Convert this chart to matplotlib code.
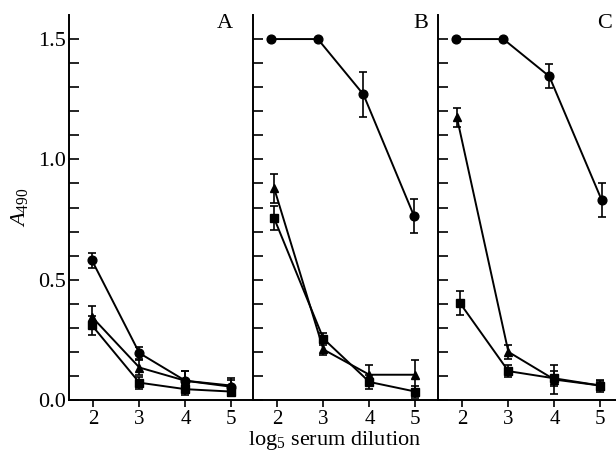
import matplotlib
matplotlib.use("Agg")
import matplotlib.pyplot as plt

plt.rcParams['font.family'] = ['Liberation Serif', 'DejaVu Serif']
plt.rcParams['mathtext.fontset'] = 'custom'
plt.rcParams['mathtext.rm'] = 'Liberation Serif'
plt.rcParams['mathtext.it'] = 'Liberation Serif:italic'

x_ticks = [2, 3, 4, 5]
y_major = [0.0, 0.5, 1.0, 1.5]
panel_labels = ['A', 'B', 'C']

# Panel A
xA_circle = [1.97, 3.0, 4.0, 5.0]
yA_circle = [0.58, 0.195, 0.08, 0.055]
eA_circle = [0.03, 0.025, 0.04, 0.03]
xA_tri = [1.97, 3.0, 4.0, 5.0]
yA_tri = [0.345, 0.135, 0.08, 0.06]
eA_tri = [0.045, 0.03, 0.04, 0.03]
xA_sq = [1.97, 3.0, 4.0, 5.0]
yA_sq = [0.31, 0.072, 0.045, 0.035]
eA_sq = [0.04, 0.025, 0.025, 0.02]

# Panel B
xB_circle = [1.87, 2.88, 3.87, 4.97]
yB_circle = [1.5, 1.5, 1.27, 0.765]
eB_circle = [0.0, 0.0, 0.095, 0.07]
xB_tri = [1.93, 3.0, 4.0, 5.0]
yB_tri = [0.88, 0.21, 0.105, 0.105]
eB_tri = [0.06, 0.025, 0.04, 0.06]
xB_sq = [1.93, 3.0, 4.0, 5.0]
yB_sq = [0.755, 0.255, 0.075, 0.035]
eB_sq = [0.05, 0.025, 0.03, 0.025]

# Panel C
xC_circle = [1.87, 2.89, 3.89, 5.03]
yC_circle = [1.5, 1.5, 1.345, 0.83]
eC_circle = [0.0, 0.0, 0.05, 0.07]
xC_tri = [1.88, 3.0, 4.0, 5.0]
yC_tri = [1.175, 0.2, 0.085, 0.06]
eC_tri = [0.04, 0.03, 0.06, 0.02]
xC_sq = [1.94, 3.0, 4.0, 5.0]
yC_sq = [0.405, 0.12, 0.09, 0.06]
eC_sq = [0.05, 0.025, 0.03, 0.025]

panels = [
    [(xA_circle, yA_circle, eA_circle, 'o'), (xA_tri, yA_tri, eA_tri, '^'), (xA_sq, yA_sq, eA_sq, 's')],
    [(xB_circle, yB_circle, eB_circle, 'o'), (xB_tri, yB_tri, eB_tri, '^'), (xB_sq, yB_sq, eB_sq, 's')],
    [(xC_circle, yC_circle, eC_circle, 'o'), (xC_tri, yC_tri, eC_tri, '^'), (xC_sq, yC_sq, eC_sq, 's')],
]

W, H = 616, 451
fig = plt.figure(figsize=(W / 100, H / 100), dpi=100)

lefts = [69, 253, 438]
letter_right = [233, 428, 612]
pw = 184
bottom_px = 400
top_px = 15

for i, (left, series) in enumerate(zip(lefts, panels)):
    ax = fig.add_axes([left / W, 1 - bottom_px / H, pw / W, (bottom_px - top_px) / H])
    ax.set_xlim(1.47, 5.47)
    ax.set_ylim(0, 1.6)
    for xs, ys, es, m in series:
        ms = 6.3 if m != 's' else 5.5
        ax.errorbar(xs, ys, yerr=es, color='black', marker=m, markersize=ms,
                    linewidth=1.4, elinewidth=1.2, capsize=3, capthick=1.2, clip_on=False)
    for s in ['top', 'right']:
        ax.spines[s].set_visible(False)
    ax.spines['left'].set_linewidth(1.4)
    ax.spines['bottom'].set_linewidth(1.4)
    ax.set_xticks(x_ticks)
    ax.set_xticklabels([str(t) for t in x_ticks], fontsize=15)
    ax.set_yticks([k / 10 for k in range(0, 16)])
    if i == 0:
        ax.set_yticklabels(['%.1f' % (k / 10) if (k / 10) in y_major else '' for k in range(0, 16)], fontsize=16)
    else:
        ax.set_yticklabels([])
    ax.tick_params(axis='y', direction='in', length=7, width=1.2, pad=2)
    ax.tick_params(axis='x', direction='out', length=5, width=1.2, pad=2)
    fig.text(letter_right[i] / W, 1 - 14 / H, panel_labels[i], ha='right', va='top', fontsize=16)
    if i == 0:
        ax.set_ylabel('$A_{490}$', fontsize=16, labelpad=6)

fig.text(335 / W, 1 - 445 / H, 'log$_{\\mathrm{5}}$ serum dilution', ha='center', va='baseline', fontsize=16)

fig.savefig('out.png', dpi=100)
